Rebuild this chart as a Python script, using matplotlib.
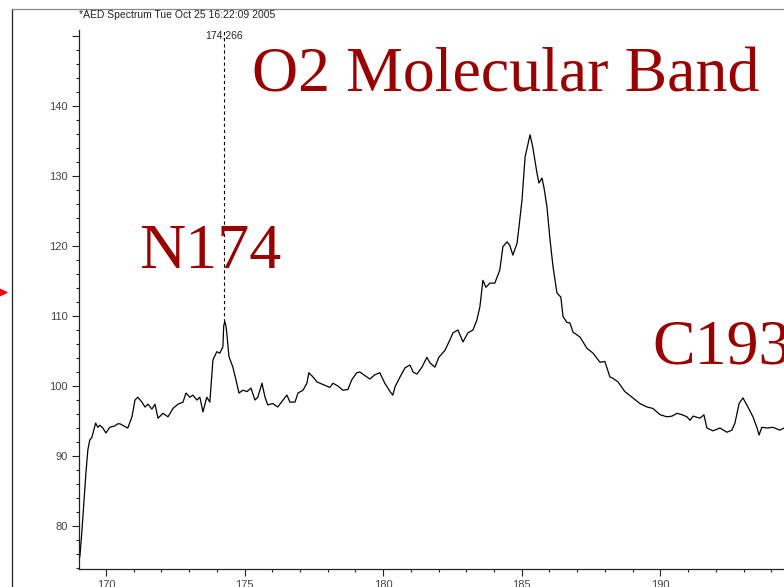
import matplotlib
matplotlib.use("Agg")
import matplotlib.pyplot as plt
from matplotlib.lines import Line2D
from matplotlib.patches import Polygon
from matplotlib.ticker import MultipleLocator, FuncFormatter

# spectrum (wavelength, intensity)
wavelength = [169.06, 169.13, 169.21, 169.28, 169.35, 169.42, 169.49, 169.63, 169.71, 169.78,
              169.89, 170.00, 170.14, 170.32, 170.43, 170.51, 170.69, 170.79, 170.94, 171.05,
              171.15, 171.30, 171.41, 171.52, 171.66, 171.77, 171.88, 172.06, 172.24, 172.42,
              172.60, 172.78, 172.89, 173.03, 173.14, 173.28, 173.39, 173.50, 173.64, 173.75,
              173.86, 174.00, 174.11, 174.22, 174.25, 174.29, 174.33, 174.36, 174.44, 174.58,
              174.69, 174.80, 174.94, 175.09, 175.23, 175.38, 175.48, 175.63, 175.74, 175.84,
              176.02, 176.20, 176.39, 176.53, 176.64, 176.82, 176.93, 177.11, 177.25, 177.32,
              177.47, 177.61, 177.72, 177.90, 178.08, 178.19, 178.37, 178.55, 178.73, 178.87,
              179.05, 179.16, 179.34, 179.52, 179.70, 179.88, 180.06, 180.25, 180.35, 180.43,
              180.61, 180.79, 180.97, 181.08, 181.22, 181.40, 181.58, 181.69, 181.87, 182.01,
              182.23, 182.41, 182.52, 182.70, 182.88, 183.06, 183.24, 183.38, 183.49, 183.60,
              183.71, 183.85, 184.03, 184.21, 184.32, 184.47, 184.57, 184.68, 184.83, 184.90,
              185.01, 185.12, 185.30, 185.40, 185.55, 185.62, 185.73, 185.80, 185.91, 186.02,
              186.13, 186.27, 186.41, 186.49, 186.63, 186.74, 186.85, 187.10, 187.35, 187.57,
              187.82, 188.00, 188.18, 188.29, 188.47, 188.72, 188.98, 189.26, 189.52, 189.73,
              189.99, 190.24, 190.42, 190.60, 190.78, 190.96, 191.07, 191.18, 191.43, 191.57,
              191.68, 191.90, 192.15, 192.40, 192.58, 192.69, 192.84, 192.98, 193.16, 193.34,
              193.48, 193.56, 193.66, 193.85, 194.06, 194.31, 194.46, 194.80]
intensity = [75.6, 79.0, 83.7, 87.6, 90.9, 92.3, 92.6, 94.7, 94.1, 94.4,
             94.0, 93.3, 94.1, 94.3, 94.6, 94.6, 94.2, 94.0, 95.6, 98.0,
             98.4, 97.7, 97.0, 97.4, 96.7, 97.4, 95.4, 96.1, 95.6, 96.8,
             97.4, 97.7, 99.0, 98.4, 98.7, 98.0, 98.4, 96.3, 98.4, 97.7,
             103.7, 104.9, 104.7, 105.6, 108.6, 109.2, 108.6, 107.6, 104.2, 102.7,
             100.9, 99.0, 99.4, 99.2, 99.7, 98.0, 98.4, 100.4, 98.4, 97.3,
             97.5, 97.0, 98.0, 98.7, 97.7, 97.7, 99.0, 99.4, 100.4, 101.9,
             101.3, 100.6, 100.4, 100.1, 99.8, 100.4, 100.0, 99.4, 99.5, 100.9,
             101.9, 102.0, 101.5, 101.0, 101.6, 101.9, 100.4, 99.2, 98.7, 99.9,
             101.3, 102.6, 103.0, 102.0, 101.7, 102.7, 104.1, 103.3, 102.7, 104.1,
             105.1, 106.6, 107.6, 108.0, 106.3, 107.6, 108.0, 109.4, 111.3, 115.1,
             114.1, 114.7, 114.7, 116.6, 119.9, 120.6, 120.1, 118.7, 120.4, 122.7,
             126.6, 132.7, 135.9, 134.1, 130.4, 129.0, 129.7, 128.4, 125.6, 120.9,
             117.0, 113.3, 112.7, 109.9, 109.1, 109.0, 107.7, 107.0, 105.4, 104.7,
             103.4, 103.5, 101.3, 101.1, 100.6, 99.2, 98.4, 97.5, 97.0, 96.8,
             95.9, 95.6, 95.7, 96.1, 95.9, 95.6, 95.1, 95.7, 95.4, 95.9,
             94.0, 93.6, 94.0, 93.4, 93.7, 94.7, 97.5, 98.3, 97.0, 95.6,
             94.1, 93.0, 94.1, 94.0, 94.1, 93.7, 94.0, 93.8]

peak_x = 174.266
peak_y = 109.2
peak_label = "174.266"
title = "*AED Spectrum Tue Oct 25 16:22:09 2005"
red = "#990000"

W, H = 784, 587
fig = plt.figure(figsize=(W / 100, H / 100), dpi=100)
ax = fig.add_axes([79 / W, (H - 569) / H, (W - 79) / W, (569 - 30) / H])

ax.plot(wavelength, intensity, color="black", lw=0.9)
ax.set_xlim(169.03, 194.46)
ax.set_ylim(73.86, 150.86)

# marker line at the N peak
ax.plot([peak_x, peak_x], [peak_y, 150.86], color="black", lw=0.8, ls=(0, (3, 2.5)))
ax.text(peak_x, 150.0, peak_label, ha="center", va="center", fontsize=7.5,
        family="Liberation Sans", color="#222222")

for s in ["top", "right"]:
    ax.spines[s].set_visible(False)
for s in ["left", "bottom"]:
    ax.spines[s].set_color("#222222")
    ax.spines[s].set_linewidth(0.9)

ax.xaxis.set_major_locator(MultipleLocator(5))
ax.xaxis.set_minor_locator(MultipleLocator(1))
ax.yaxis.set_major_locator(MultipleLocator(10))
ax.yaxis.set_minor_locator(MultipleLocator(2))
# the top tick (150) has no label in the original
ax.yaxis.set_major_formatter(FuncFormatter(lambda v, p: "" if v >= 150 else f"{v:.0f}"))
ax.tick_params(which="major", length=5, width=0.8, color="#222222",
               labelsize=8, labelcolor="#444444", pad=3)
ax.tick_params(which="minor", length=2.5, width=0.8, color="#222222")
for lab in ax.get_xticklabels() + ax.get_yticklabels():
    lab.set_family("Liberation Sans")

fig.text(79 / W, 1 - 15.5 / H, title, ha="left", va="center", fontsize=7.5,
         family="Liberation Sans", color="#222222")

# slide decorations
fig.add_artist(Line2D([12 / W, 12 / W], [0, 1 - 9 / H], color="#222222", lw=0.9))
fig.add_artist(Line2D([12 / W, 1], [1 - 9 / H, 1 - 9 / H], color="#888888", lw=0.9))
fig.add_artist(Polygon([[-4 / W, 1 - 287.5 / H], [7 / W, 1 - 292.5 / H], [-4 / W, 1 - 297.5 / H]],
                       closed=True, color="red", transform=fig.transFigure))

fig.text(252 / W, 1 - 92 / H, "O2 Molecular Band", ha="left", va="baseline",
         fontsize=46, family="Liberation Serif", color=red)
fig.text(139 / W, 1 - 268 / H, "N174", ha="left", va="baseline",
         fontsize=46, family="Liberation Serif", color=red)
fig.text(652 / W, 1 - 363 / H, "C193", ha="left", va="baseline",
         fontsize=46, family="Liberation Serif", color=red)

fig.savefig("out.png", dpi=100)
